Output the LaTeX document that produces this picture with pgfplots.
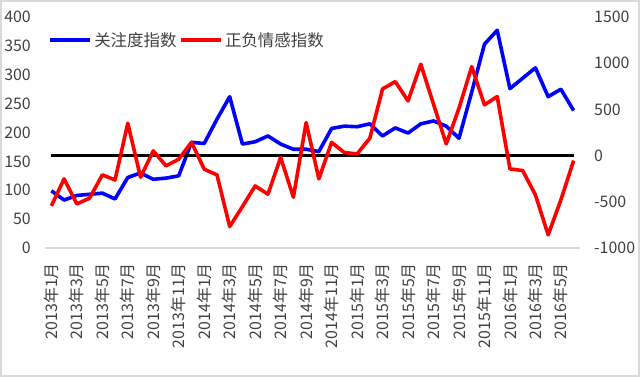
\documentclass[border=0pt]{standalone}
\usepackage{pgfplots}
\usepackage{pgfplotstable}
\pgfplotsset{compat=1.18}
\usepackage{fontspec}
\setmainfont{Noto Sans CJK SC}
\definecolor{framegray}{HTML}{D9D9D9}

\pgfplotstableread{
i blue red zero
0 99 -544 0
1 83 -252 0
2 91 -523 0
3 93 -461 0
4 95 -209 0
5 85 -263 0
6 122 350 0
7 130 -234 0
8 119 51 0
9 121 -111 0
10 125 -39 0
11 183 145 0
12 181 -147 0
13 223 -209 0
14 262 -768 0
15 180 -552 0
16 184 -328 0
17 194 -418 0
18 180 -20 0
19 171 -450 0
20 171 357 0
21 167 -252 0
22 207 143 0
23 211 33 0
24 210 18 0
25 215 188 0
26 194 722 0
27 208 801 0
28 199 592 0
29 215 989 0
30 220 557 0
31 211 127 0
32 190 513 0
33 270 963 0
34 353 549 0
35 377 639 0
36 276 -144 0
37 294 -162 0
38 312 -425 0
39 262 -858 0
40 275 -479 0
41 238 -54 0
}\data

\begin{document}
\begin{tikzpicture}
\pgfplotsset{
  every axis/.style={
    width=535bp, height=231bp, scale only axis,
    xmin=-0.5, xmax=41.5,
    major tick length=0pt,
    tick style={draw=none},
    tick label style={font=\fontsize{16}{17}\selectfont, text=black!75},
  }
}
\begin{axis}[
  ymin=0, ymax=400,
  ytick={0,50,...,400},
  yticklabels={0,50,100,150,200,250,300,350,400},
  yticklabel style={anchor=east, inner sep=0pt},
  yticklabel shift=14bp,
  axis y line*=left,
  y axis line style={draw=none},
  axis x line*=bottom,
  x axis line style={draw=framegray, line width=1.2bp, -},
  xtick={0,2,...,40},
  xticklabels={2013年1月,2013年3月,2013年5月,2013年7月,2013年9月,2013年11月,2014年1月,2014年3月,2014年5月,2014年7月,2014年9月,2014年11月,2015年1月,2015年3月,2015年5月,2015年7月,2015年9月,2015年11月,2016年1月,2016年3月,2016年5月},
  xticklabel style={rotate=90, anchor=east, inner sep=0pt},
  xticklabel shift=15bp,
]
\addplot[blue, line width=3.6bp, line join=round] table[x=i, y=blue] {\data};
\end{axis}
\begin{axis}[
  ymin=-1000, ymax=1500,
  ytick={-1000,-500,0,500,1000,1500},
  yticklabels={-1000,-500,0,500,1000,1500},
  yticklabel style={anchor=west, inner sep=0pt},
  yticklabel shift=14bp,
  axis y line*=right,
  y axis line style={draw=none},
  axis x line=none,
  legend style={at={(rel axis cs:0,1)}, anchor=west, xshift=3bp, yshift=-23bp,
    draw=none, fill=none, inner sep=0pt,
    font=\fontsize{16.5}{18}\selectfont, text=black!75,
    nodes={inner sep=2.5bp},
    /tikz/every even column/.append style={column sep=0bp}},
  legend columns=2,
  legend image code/.code={\draw[#1] (0bp,0bp) -- (40bp,0bp);},
]
\addlegendimage{blue, line width=3.6bp}
\addlegendentry{关注度指数}
\addplot[black, line width=3.6bp, forget plot] table[x=i, y=zero] {\data};
\addplot[red, line width=3.6bp, line join=round] table[x=i, y=red] {\data};
\addlegendentry{正负情感指数}
\end{axis}
\draw[framegray, line width=2.5bp] (-43.75bp,-127.75bp) rectangle (593.75bp,246.75bp);
\path[use as bounding box] (-45bp,-129bp) rectangle (595bp,248bp);
\end{tikzpicture}
\end{document}
